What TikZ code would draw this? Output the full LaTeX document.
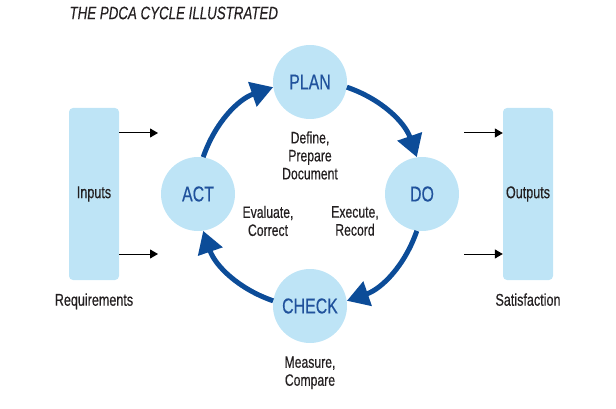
\documentclass[tikz,border=0pt]{standalone}
\usepackage{fontspec}
\setmainfont{Liberation Sans}[FakeStretch=0.74,FakeBold=0.35]
\usetikzlibrary{positioning,arrows.meta}
\definecolor{CycleBlue}{RGB}{12,76,152}
\definecolor{StageText}{RGB}{32,82,156}
\definecolor{PaleBlue}{RGB}{190,228,246}
\definecolor{InkGray}{RGB}{35,31,32}
\tikzset{
  stage/.style={
    circle,
    fill=PaleBlue,
    minimum size=74pt,
    inner sep=0pt,
    text=StageText,
    font=\fontsize{21.5}{24}\selectfont
  },
  sidebox/.style={
    fill=PaleBlue,
    rounded corners=4pt,
    minimum width=50pt,
    minimum height=172pt,
    inner sep=0pt,
    text=InkGray,
    font=\fontsize{17}{19}\selectfont
  },
  note/.style={
    align=center,
    text=InkGray,
    inner sep=0pt,
    font=\fontsize{16.5}{18}\selectfont
  },
  cyc/.style={-{Triangle[length=22pt,width=25pt]},line width=5pt,draw=CycleBlue,looseness=0.95},
  io/.style={-{Triangle[length=8pt,width=9pt]},line width=1pt,draw=black}
}
\begin{document}
\begin{tikzpicture}[x=1pt,y=-1pt]
  \useasboundingbox (0,0) rectangle (616,409);
  \node[anchor=west,text=InkGray,font=\fontsize{18}{20}\selectfont\itshape] (title) at (66,13) {THE PDCA CYCLE ILLUSTRATED};

  % the four stages
  \node[stage] (plan) at (310,82) {PLAN};
  \node[stage] (do) at (422,194) {DO};
  \node[stage] (check) at (310,306) {CHECK};
  \node[stage] (act) at (198,194) {ACT};
  \draw[cyc] (act.82) to[out=71,in=199] (plan.188);
  \draw[cyc] (plan.-8) to[out=-19,in=109] (do.98);
  \draw[cyc] (do.262) to[out=251,in=19] (check.8);
  \draw[cyc] (check.172) to[out=161,in=289] (act.278);

  \node[note,below=12pt of plan] (define) {Define,\\Prepare\\Document};
  \node[note] (evaluate) at (268,221) {Evaluate,\\Correct};
  \node[note] (execute) at (355,221) {Execute,\\Record};
  \node[note,below=13pt of check] (measure) {Measure,\\Compare};

  % inputs and outputs
  \node[sidebox] (inputs) at (94,194) {Inputs};
  \node[sidebox] (outputs) at (528,194) {Outputs};
  \node[note,font=\fontsize{17}{19}\selectfont,below=13pt of inputs] (req) {Requirements};
  \node[note,font=\fontsize{17}{19}\selectfont,below=13pt of outputs] (sat) {Satisfaction};
  \coordinate (in1) at (158,133);
  \coordinate (in2) at (158,254);
  \coordinate (out1) at (464,133);
  \coordinate (out2) at (464,254);
  \draw[io] (in1 -| inputs.east) -- (in1);
  \draw[io] (in2 -| inputs.east) -- (in2);
  \draw[io] (out1) -- (out1 -| outputs.west);
  \draw[io] (out2) -- (out2 -| outputs.west);
\end{tikzpicture}
\end{document}
